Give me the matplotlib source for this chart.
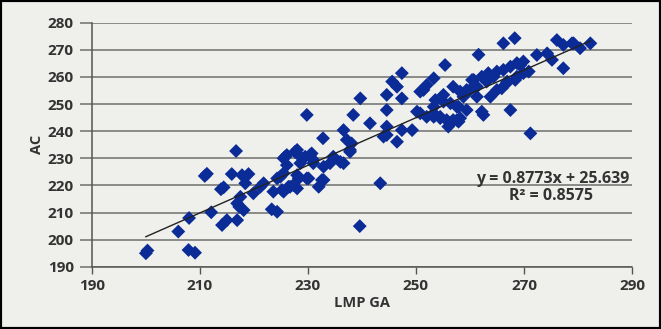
import numpy as np
import matplotlib.pyplot as plt

# LMP GA (x) vs AC (y)
lmp_ga = [200, 200.3, 206, 208, 207.9, 209.1, 210.9, 211.3, 212.1, 213.9, 214.4, 214.1,
          215, 215.9, 216.9, 217.3, 216.9, 217.8, 219, 218.4, 217.5, 219.9, 221.2, 221.8,
          223.3, 224.3, 224.9, 225.5, 226.4, 227.3, 225.5, 226.1, 228, 230.4, 231, 228,
          229.8, 232, 232.9, 234.1, 236.6, 237.8, 239.6, 216.7, 229.8, 232.8, 238.4, 236.6,
          237.2, 237.8, 225.8, 228, 231, 234.7, 236, 239.7, 238.1, 241.5, 244, 246.5,
          244.6, 244.6, 244.6, 247.4, 245.6, 246.5, 247.4, 247.4, 249.3, 250.8, 252, 253.3,
          254.5, 255.7, 256.4, 257.6, 251.4, 252, 253.3, 255.4, 253.6, 255.1, 256.4, 257.6,
          258.8, 260, 260.7, 261.3, 261.6, 262.5, 263.1, 264.4, 265, 266.2, 267.5, 268.7,
          269.9, 263.8, 265, 266.9, 268.7, 269.9, 267.5, 266.2, 268.3, 271.2, 272.4, 274.3,
          275.2, 276.1, 277.3, 278.9, 280.4, 282.3, 226.1, 227.6, 229.5, 230.7, 228.6, 232.9,
          224.3, 225.5, 228.3, 230.1, 232.6, 223.6, 225.2, 226.7, 228, 218.1, 243.4, 244.6,
          250.8, 260.4, 262.2, 263.4, 269.3, 270.9, 268.4, 266.8, 256.9, 258.2, 259.4, 261.3,
          265.9, 250.2, 253.3, 254.5, 256.9, 258.2, 253.3, 255.1, 257.9, 259.4, 262.2, 256,
          257.9, 277.3, 279.2]
ac = [195, 196, 203, 208, 196.2, 195.2, 223.5, 224.3, 210.1, 218.6, 219.3, 205.4,
      207.2, 224.2, 207.2, 212.1, 213.4, 223.8, 224.2, 220.8, 215.8, 217.1, 219.5, 220.8,
      211.2, 210.3, 223.2, 217.7, 219.5, 220.1, 230, 227.5, 231.8, 231.2, 229.4, 223.8,
      222.6, 219.5, 222, 228.2, 228.2, 232.4, 205, 232.7, 246, 237.4, 246, 240.4,
      236.8, 233.1, 230.6, 233.1, 228.2, 230.6, 228.7, 252.1, 235.5, 242.9, 238, 236.1,
      241.7, 247.8, 253.4, 261.4, 258.3, 256.4, 252.1, 240.4, 240.4, 246.6, 245.3, 246.6,
      245.3, 244.1, 242.9, 244.1, 255.2, 257, 259.5, 264.4, 251.5, 253.4, 250.3, 249,
      252.7, 255.2, 258.9, 252.7, 268.2, 246, 258.3, 260.1, 262, 262.6, 263.8, 265.1,
      265.7, 252.7, 255.2, 258.3, 260.1, 261.4, 247.8, 272.4, 274.3, 239.2, 268.1, 268.7,
      266.3, 273.6, 263.2, 272.4, 270.6, 272.4, 231.2, 232.4, 230.6, 231.8, 228.2, 226.9,
      222.6, 224.5, 222.6, 222.6, 222, 217.7, 218.3, 219.5, 218.9, 210.9, 220.8, 238.6,
      254.6, 258.9, 260.1, 261.4, 264.3, 262, 258.9, 257.7, 256.4, 254.6, 255.2, 256.4,
      255.8, 247.2, 245.3, 244.8, 244.1, 244.8, 249, 250.9, 249, 247.8, 247.2, 241.7,
      243.5, 271.8, 272.4]

slope, intercept, r2 = 0.8773, 25.639, 0.8575
x_ticks = [190, 210, 230, 250, 270, 290]
y_ticks = list(range(190, 281, 10))

plt.rcParams['font.family'] = ['Open Sans', 'DejaVu Sans']
bg = '#efefec'
txt = '#333333'

fig = plt.figure(figsize=(6.61, 3.29), dpi=100, facecolor=bg)
fig.patches.append(plt.Rectangle((0, 0), 1, 1, transform=fig.transFigure,
                                 fill=False, edgecolor='black', linewidth=3))
ax = fig.add_axes([0.139, 0.189, 0.817, 0.742])
ax.set_facecolor(bg)

ax.scatter(lmp_ga, ac, marker='D', s=50, color='#0b2c96', edgecolors='none', zorder=3)

xs = np.array([min(lmp_ga), max(lmp_ga)])
ax.plot(xs, slope * xs + intercept, color='#222222', linewidth=1, zorder=4)

ax.set_xlim(190, 290)
ax.set_ylim(190, 280)
ax.set_xticks(x_ticks)
ax.set_yticks(y_ticks)
ax.yaxis.grid(True, color='#6e6e6e', linewidth=1.1)
ax.set_axisbelow(True)
for s in ['top', 'right']:
    ax.spines[s].set_visible(False)
for s in ['left', 'bottom']:
    ax.spines[s].set_color('#555555')
    ax.spines[s].set_linewidth(1.1)
ax.tick_params(axis='x', colors='#555555', length=5, width=1, labelcolor=txt,
               labelsize=11, pad=4)
ax.tick_params(axis='y', colors='#6e6e6e', length=9, width=1.1, labelcolor=txt,
               labelsize=11, pad=4)
for lab in ax.get_xticklabels() + ax.get_yticklabels():
    lab.set_fontweight('bold')

ax.set_xlabel('LMP GA', fontsize=10.5, fontweight='bold', color=txt, labelpad=2)
ax.set_ylabel('AC', fontsize=10.5, fontweight='bold', color=txt, labelpad=3)

ax.text(289.5, 222.5, f'y = {slope}x + {intercept}', ha='right', va='center',
        fontsize=11.5, fontweight='bold', color=txt)
ax.text(275, 216.2, f'R² = {r2}', ha='center', va='center',
        fontsize=11.5, fontweight='bold', color=txt)

fig.savefig('out.png', dpi=100, facecolor=bg)
